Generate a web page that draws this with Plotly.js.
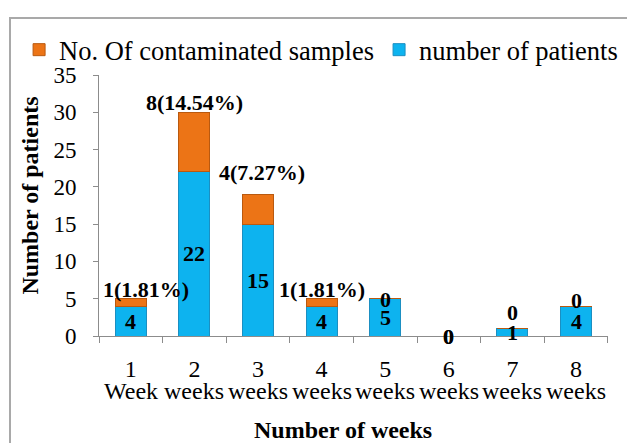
<!DOCTYPE html>
<html>
<head>
<meta charset="utf-8">
<script src="https://cdn.plot.ly/plotly-3.0.1.min.js"></script>
<style>
  html, body { margin: 0; padding: 0; background: #fff; overflow: hidden; }
  #wrap { position: relative; width: 627px; height: 443px; }
  #chart { position: absolute; left: 0; top: 0; width: 627px; height: 443px; }
  #frame { position: absolute; left: 9px; top: 17px; width: 700px; height: 500px;
           border-left: 2px solid #a9a9a9; border-top: 2px solid #a9a9a9; pointer-events: none; }
</style>
</head>
<body>
<div id="wrap">
  <div id="chart"></div>
  <div id="frame"></div>
</div>
<script>
// ---- data ----
const categories = ["1", "2", "3", "4", "5", "6", "7", "8"];
const weekWords = ["Week", "weeks", "weeks", "weeks", "weeks", "weeks", "weeks", "weeks"];
const patients = [4, 22, 15, 4, 5, 0, 1, 4];
const contaminated = [1, 8, 4, 1, 0, 0, 0, 0];
const contaminatedLabels = ["1(1.81%)", "8(14.54%)", "4(7.27%)", "1(1.81%)", "0", "0", "0", "0"];
const yTicks = [0, 5, 10, 15, 20, 25, 30, 35];

// ---- label offsets (style only) ----
const topLabelXShift = [15, 0, 4, 0, 0, 0, 0, 0];
const topLabelYShift = [9, 10, 22, 9, -1, 0, 16, 6];

const FONT = '"Liberation Serif", "Times New Roman", Times, serif';

const traces = [
  {
    type: "bar", name: "number of patients", x: categories, y: patients,
    marker: { color: "#0db3ef", line: { color: "#1b8fc2", width: 1 } },
    hoverinfo: "skip"
  },
  {
    type: "bar", name: "No. Of contaminated samples", x: categories, y: contaminated,
    marker: { color: "#ec7416", line: { color: "#b9590f", width: 1 } },
    hoverinfo: "skip"
  }
];

// annotations on a category axis are placed by category index
const annotations = [];
categories.forEach((c, i) => {
  annotations.push({
    x: i, y: patients[i] / 2, xref: "x", yref: "y",
    text: "<b>" + patients[i] + "</b>", showarrow: false,
    xanchor: "center", yanchor: "middle",
    font: { family: FONT, size: 22, color: "#000" }
  });
  annotations.push({
    x: i, y: patients[i] + contaminated[i], xref: "x", yref: "y",
    text: "<b>" + contaminatedLabels[i] + "</b>", showarrow: false,
    xanchor: "center", yanchor: "middle",
    xshift: topLabelXShift[i], yshift: topLabelYShift[i],
    font: { family: FONT, size: 22, color: "#000" }
  });
  // second line of the category tick label
  annotations.push({
    x: i, y: -0.212, xref: "x", yref: "paper",
    text: weekWords[i], showarrow: false,
    xanchor: "center", yanchor: "middle",
    font: { family: FONT, size: 24, color: "#000" }
  });
});
annotations.push({
  text: "<b>Number of weeks</b>", xref: "paper", yref: "paper",
  x: 0.479, y: -0.36, showarrow: false, xanchor: "center", yanchor: "middle",
  font: { family: FONT, size: 24, color: "#000" }
});
annotations.push({
  text: "<b>Number of patients</b>", xref: "paper", yref: "paper",
  x: -0.136, y: 0.537, showarrow: false, xanchor: "center", yanchor: "middle",
  textangle: -90,
  font: { family: FONT, size: 24, color: "#000" }
});

const layout = {
  width: 627, height: 443,
  margin: { l: 99, r: 19, t: 75, b: 107 },
  paper_bgcolor: "rgba(0,0,0,0)", plot_bgcolor: "rgba(0,0,0,0)",
  barmode: "stack", bargap: 0.51,
  font: { family: FONT, size: 22, color: "#000" },
  showlegend: true,
  legend: {
    orientation: "h", traceorder: "reversed",
    x: -0.157, xanchor: "left", y: 1.096, yanchor: "middle",
    font: { family: FONT, size: 26.5, color: "#000" },
    bgcolor: "rgba(0,0,0,0)", borderwidth: 0, itemclick: false
  },
  xaxis: {
    type: "category", tickson: "boundaries", ticks: "outside", ticklen: 6,
    tickcolor: "#8c8c8c", showline: true, linecolor: "#8c8c8c", linewidth: 1,
    showgrid: false, zeroline: false, ticklabelstandoff: 11, tickangle: 0,
    tickfont: { family: FONT, size: 24, color: "#000" }, fixedrange: true
  },
  yaxis: {
    range: [0, 35], tickvals: yTicks, ticktext: yTicks.map(String),
    ticks: "outside", ticklen: 5, tickcolor: "#8c8c8c",
    showline: true, linecolor: "#8c8c8c", linewidth: 1,
    showgrid: false, zeroline: false, ticklabelstandoff: 12,
    tickfont: { family: FONT, size: 23, color: "#000" }, fixedrange: true
  },
  annotations: annotations
};

Plotly.newPlot("chart", traces, layout, { staticPlot: true, displayModeBar: false });
</script>
</body>
</html>
